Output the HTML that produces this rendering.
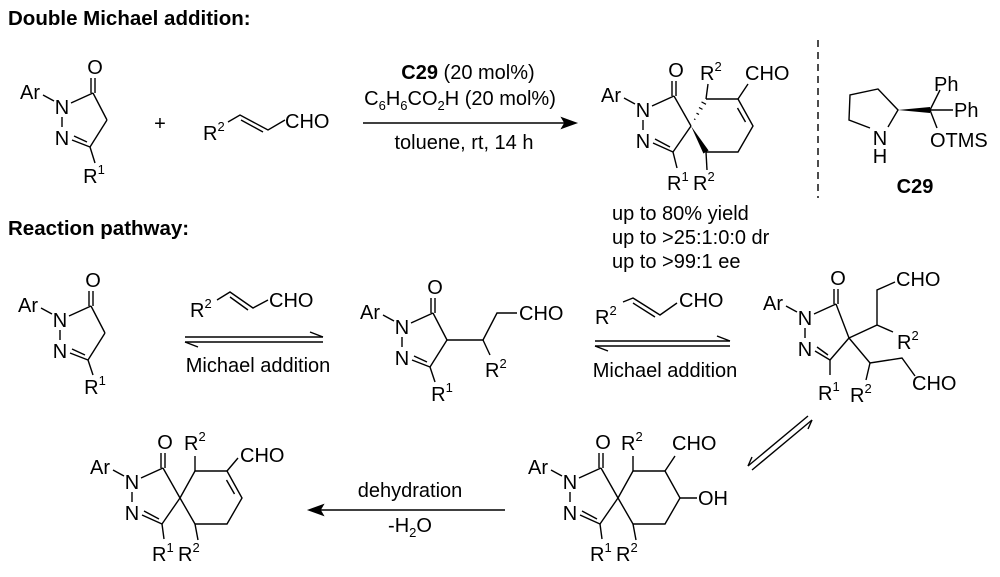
<!DOCTYPE html>
<html><head><meta charset="utf-8"><style>
html,body{margin:0;padding:0;background:#fff}
svg{display:block}
text{font-family:"Liberation Sans",Arial,sans-serif;font-size:20px;fill:#000}
.b{font-weight:bold}
.h{font-weight:bold;font-size:20.5px}
.s{font-size:13px}
line,polyline,path{stroke:#000;stroke-width:1.4;fill:none}
</style></head><body>
<svg width="1000" height="577" viewBox="0 0 1000 577" xmlns="http://www.w3.org/2000/svg">
<defs>
<g id="pyr">
 <text x="-32" y="-8" text-anchor="middle">Ar</text>
 <text x="0" y="7" text-anchor="middle">N</text>
 <text x="0" y="38" text-anchor="middle">N</text>
 <text x="33" y="-33" text-anchor="middle">O</text>
 <line x1="-19" y1="-12" x2="-8" y2="-6"/>
 <line x1="9" y1="-4" x2="31" y2="-14"/>
 <line x1="29" y1="-14" x2="29" y2="-29"/>
 <line x1="33" y1="-14" x2="33" y2="-29"/>
 <line x1="0" y1="10" x2="0" y2="20"/>
</g>
</defs>

<text x="8" y="25" class="h">Double Michael addition:</text>
<text x="8" y="235" class="h">Reaction pathway:</text>

<!-- Mol 1 top -->
<g transform="translate(62,107)">
 <use href="#pyr"/>
 <line x1="31" y1="-14" x2="45" y2="13"/><line x1="45" y1="13" x2="28" y2="40"/>
 <line x1="28" y1="40" x2="10" y2="33"/><line x1="25" y1="35" x2="12" y2="29"/>
 <line x1="28" y1="40" x2="33" y2="56"/>
 <text x="32" y="76" text-anchor="middle">R<tspan class="s" dy="-9">1</tspan></text>
</g>
<text x="160" y="130" text-anchor="middle">+</text>
<text x="203" y="140">R<tspan class="s" dy="-9">2</tspan></text>
<polyline points="228,122 240,115 268,130 285,120"/><line x1="241" y1="120" x2="263" y2="132"/>
<text x="285" y="128">CHO</text>

<!-- top arrow -->
<text x="468" y="79" text-anchor="middle"><tspan class="b">C29</tspan> (20 mol%)</text>
<text x="460" y="105" text-anchor="middle">C<tspan class="s" dy="5">6</tspan><tspan dy="-5">H</tspan><tspan class="s" dy="5">6</tspan><tspan dy="-5">CO</tspan><tspan class="s" dy="5">2</tspan><tspan dy="-5">H (20 mol%)</tspan></text>
<line x1="363" y1="123" x2="572" y2="123"/>
<path d="M576,123 L562,118 L565,123 L562,128 Z" style="fill:#000"/>
<text x="464" y="149" text-anchor="middle">toluene, rt, 14 h</text>

<!-- product top -->
<g transform="translate(643,110)">
 <use href="#pyr"/>
 <line x1="31" y1="-14" x2="48" y2="16"/><line x1="48" y1="16" x2="30" y2="42"/>
 <line x1="30" y1="42" x2="10" y2="33"/><line x1="27" y1="37" x2="12" y2="29"/>
 <line x1="30" y1="42" x2="34" y2="58"/>
</g>
<text x="667" y="190">R<tspan class="s" dy="-9">1</tspan></text>
<text x="693" y="190">R<tspan class="s" dy="-9">2</tspan></text>
<polygon points="691,126 708.6,150.5 703.4,153.5" fill="#000"/>
<path d="M694.1,118.9 L695.4,119.6 M696.5,113.2 L699,114.5 M699,107.5 L702.5,109.4 M701.5,101.9 L706,104.3" style="stroke-width:1.2"/>
<polyline points="706,99 738,99 753,126 738,152 706,152"/>
<line x1="737.5" y1="108" x2="745.5" y2="122"/>
<line x1="706" y1="99" x2="708" y2="84"/>
<text x="700" y="80">R<tspan class="s" dy="-9">2</tspan></text>
<line x1="738" y1="99" x2="748" y2="84"/>
<text x="745" y="80">CHO</text>
<line x1="706" y1="152" x2="707" y2="170"/>
<text x="612" y="220">up to 80% yield</text>
<text x="612" y="244">up to &gt;25:1:0:0 dr</text>
<text x="612" y="268">up to &gt;99:1 ee</text>

<line x1="818" y1="40" x2="818" y2="198" style="stroke-dasharray:7,5"/>

<!-- C29 -->
<polyline points="870,128 849,120 850,95 878,89 898,110 888,127"/>
<text x="880" y="145" text-anchor="middle">N</text>
<text x="880" y="163" text-anchor="middle">H</text>
<polygon points="898,110 930,107 930,113" fill="#000"/>
<line x1="930" y1="110" x2="940" y2="90"/>
<line x1="930" y1="110" x2="953" y2="110"/>
<line x1="930" y1="110" x2="937" y2="128"/>
<text x="934" y="91">Ph</text>
<text x="954" y="117">Ph</text>
<text x="930" y="147">OTMS</text>
<text x="915" y="193" text-anchor="middle" class="b">C29</text>

<!-- pathway mol 1 -->
<g transform="translate(60,320)">
 <use href="#pyr"/>
 <line x1="31" y1="-14" x2="45" y2="13"/><line x1="45" y1="13" x2="28" y2="40"/>
 <line x1="28" y1="40" x2="10" y2="33"/><line x1="25" y1="35" x2="12" y2="29"/>
 <line x1="28" y1="40" x2="33" y2="55"/>
 <text x="35" y="74" text-anchor="middle">R<tspan class="s" dy="-9">1</tspan></text>
</g>
<text x="190" y="317">R<tspan class="s" dy="-9">2</tspan></text>
<polyline points="217,300 230,292 253,308 268,300"/><line x1="230" y1="297" x2="248" y2="310"/>
<text x="269" y="307">CHO</text>
<line x1="185" y1="337" x2="323" y2="337"/><path d="M323,337 L310,332"/>
<line x1="185" y1="342" x2="323" y2="342"/><path d="M185,342 L198,347"/>
<text x="258" y="372" text-anchor="middle">Michael addition</text>

<!-- pathway mol 2 -->
<g transform="translate(402,327)">
 <use href="#pyr"/>
 <line x1="31" y1="-14" x2="45" y2="13"/><line x1="45" y1="13" x2="28" y2="40"/>
 <line x1="28" y1="40" x2="10" y2="33"/><line x1="25" y1="35" x2="12" y2="29"/>
 <line x1="28" y1="40" x2="33" y2="55"/>
 <text x="40" y="74" text-anchor="middle">R<tspan class="s" dy="-9">1</tspan></text>
</g>
<polyline points="447,340 483,340 497,313 517,313"/>
<line x1="483" y1="340" x2="490" y2="355"/>
<text x="485" y="377">R<tspan class="s" dy="-9">2</tspan></text>
<text x="519" y="320">CHO</text>
<text x="595" y="324">R<tspan class="s" dy="-9">2</tspan></text>
<polyline points="623,302 633,298 660,315 677,303"/><line x1="633" y1="303" x2="655" y2="317"/>
<text x="679" y="307">CHO</text>
<line x1="595" y1="341" x2="730" y2="341"/><path d="M730,341 L717,336"/>
<line x1="595" y1="346" x2="730" y2="346"/><path d="M595,346 L608,351"/>
<text x="665" y="377" text-anchor="middle">Michael addition</text>

<!-- pathway mol 3 -->
<g transform="translate(805,318)">
 <use href="#pyr"/>
 <line x1="31" y1="-14" x2="44" y2="20"/><line x1="44" y1="20" x2="25" y2="42"/>
 <line x1="25" y1="42" x2="10" y2="33"/><line x1="23" y1="37" x2="12" y2="29"/>
 <line x1="25" y1="42" x2="25" y2="57"/>
</g>
<text x="818" y="400">R<tspan class="s" dy="-9">1</tspan></text>
<polyline points="849,338 877,325 877,290 895,282"/>
<line x1="877" y1="325" x2="893" y2="332"/>
<text x="897" y="349">R<tspan class="s" dy="-9">2</tspan></text>
<text x="896" y="286">CHO</text>
<polyline points="849,338 870,363 902,358 915,376"/>
<line x1="870" y1="363" x2="866" y2="380"/>
<text x="850" y="402">R<tspan class="s" dy="-9">2</tspan></text>
<text x="912" y="390">CHO</text>
<line x1="812" y1="420" x2="752" y2="470"/><path d="M812,420 L808,429"/>
<line x1="808" y1="416" x2="748" y2="466"/><path d="M748,466 L752,457"/>

<!-- pathway mol 4 -->
<g transform="translate(570,482)">
 <use href="#pyr"/>
 <line x1="31" y1="-14" x2="48" y2="16"/><line x1="48" y1="16" x2="30" y2="42"/>
 <line x1="30" y1="42" x2="10" y2="33"/><line x1="27" y1="37" x2="12" y2="29"/>
 <line x1="30" y1="42" x2="32" y2="57"/>
</g>
<polygon points="618,498 633,471 665,471 680,498 665,524 633,524" style="fill:none;stroke:#000;stroke-width:1.4"/>
<line x1="633" y1="471" x2="633" y2="456"/>
<text x="621" y="450">R<tspan class="s" dy="-9">2</tspan></text>
<line x1="665" y1="471" x2="675" y2="456"/>
<text x="672" y="450">CHO</text>
<line x1="680" y1="498" x2="697" y2="498"/>
<text x="698" y="505">OH</text>
<line x1="633" y1="524" x2="636" y2="540"/>
<text x="590" y="561">R<tspan class="s" dy="-9">1</tspan></text>
<text x="616" y="561">R<tspan class="s" dy="-9">2</tspan></text>

<!-- dehydration arrow -->
<line x1="313" y1="510" x2="505" y2="510"/>
<path d="M309,510 L323,505 L320,510 L323,515 Z" style="fill:#000"/>
<text x="410" y="497" text-anchor="middle">dehydration</text>
<text x="410" y="532" text-anchor="middle">-H<tspan class="s" dy="5">2</tspan><tspan dy="-5">O</tspan></text>

<!-- final mol 5 -->
<g transform="translate(132,482)">
 <use href="#pyr"/>
 <line x1="31" y1="-14" x2="48" y2="16"/><line x1="48" y1="16" x2="30" y2="42"/>
 <line x1="30" y1="42" x2="10" y2="33"/><line x1="27" y1="37" x2="12" y2="29"/>
 <line x1="30" y1="42" x2="32" y2="57"/>
</g>
<polyline points="180,498 195,471 227,471 242,498 227,524 195,524 180,498"/>
<line x1="226.5" y1="480" x2="234.5" y2="494"/>
<line x1="195" y1="471" x2="195" y2="456"/>
<text x="184" y="450">R<tspan class="s" dy="-9">2</tspan></text>
<line x1="227" y1="471" x2="238" y2="458"/>
<text x="240" y="462">CHO</text>
<line x1="195" y1="524" x2="198" y2="540"/>
<text x="152" y="561">R<tspan class="s" dy="-9">1</tspan></text>
<text x="178" y="561">R<tspan class="s" dy="-9">2</tspan></text>
</svg>
</body></html>
